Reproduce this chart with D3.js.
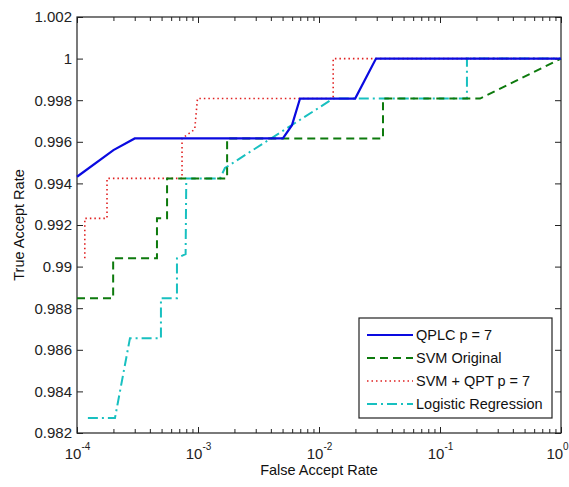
<!DOCTYPE html>
<html><head><meta charset="utf-8">
<script src="https://cdn.jsdelivr.net/npm/d3@7"></script>
<style>body{margin:0;background:#fff}svg{display:block}</style>
</head><body>
<svg id="c" width="569" height="487"></svg>
<script>
// ---- data ----
const seriesNames = ["QPLC p = 7", "SVM Original", "SVM + QPT p = 7", "Logistic Regression"];
const qplcFAR = [1e-4, 2e-4, 3e-4, 5.03e-3, 5.98e-3, 6.97e-3, 0.0199, 0.0296, 1];
const qplcTAR = [0.99432, 0.9956, 0.99616, 0.99616, 0.9968, 0.99808, 0.99808, 1.0, 1.0];
const svmFAR = [1e-4, 1.99e-4, 1.99e-4, 4.58e-4, 4.58e-4, 5.55e-4, 5.55e-4, 1.74e-3, 1.74e-3, 0.0338, 0.0338, 0.214, 1];
const svmTAR = [0.98848, 0.98848, 0.9904, 0.9904, 0.99232, 0.99232, 0.99424, 0.99424, 0.99616, 0.99616, 0.99808, 0.99808, 1.0];
const qptFAR = [1.16e-4, 1.16e-4, 1.77e-4, 1.77e-4, 7.38e-4, 7.38e-4, 9.4e-4, 9.9e-4, 0.0131, 0.0131, 1];
const qptTAR = [0.9904, 0.99232, 0.99232, 0.99424, 0.99424, 0.99616, 0.9966, 0.99808, 0.99808, 1.0, 1.0];
const lrFAR = [1.23e-4, 2.06e-4, 2.74e-4, 4.94e-4, 4.94e-4, 6.7e-4, 6.7e-4, 7.9e-4, 8.0e-4, 1.52e-3, 1.67e-3, 0.0131, 0.167, 0.167, 1];
const lrTAR = [0.98272, 0.98272, 0.98656, 0.98656, 0.98848, 0.98848, 0.9904, 0.9906, 0.99424, 0.99424, 0.99474, 0.99808, 0.99808, 1.0, 1.0];
const yTicks = [0.982, 0.984, 0.986, 0.988, 0.99, 0.992, 0.994, 0.996, 0.998, 1, 1.002];
const yTickLabels = ["0.982", "0.984", "0.986", "0.988", "0.99", "0.992", "0.994", "0.996", "0.998", "1", "1.002"];
const xTicks = [1e-4, 1e-3, 1e-2, 1e-1, 1];
const xTickExps = ["-4", "-3", "-2", "-1", "0"];
const xLabel = "False Accept Rate";
const yLabel = "True Accept Rate";

// ---- layout ----
const L = 77, R = 561, T = 17, B = 433;
const font = "Liberation Sans, Arial, sans-serif";
const svg = d3.select("#c");
const x = d3.scaleLog().domain([1e-4, 1]).range([L, R]);
const y = d3.scaleLinear().domain([0.982, 1.002]).range([B, T]);

const minors = [];
for (let e = -4; e < 0; e++) for (let m = 2; m <= 9; m++) minors.push(m * Math.pow(10, e));

function styleAxis(g) {
  g.select(".domain").remove();
  g.selectAll("line").attr("stroke", "#222").attr("stroke-width", 1);
}
// major/minor ticks bottom & top
svg.append("g").attr("transform", `translate(0,${B})`)
  .call(d3.axisBottom(x).tickValues(minors).tickSize(-4).tickFormat("")).call(styleAxis);
svg.append("g").attr("transform", `translate(0,${T})`)
  .call(d3.axisTop(x).tickValues(minors).tickSize(-4).tickFormat("")).call(styleAxis);
svg.append("g").attr("transform", `translate(0,${T})`)
  .call(d3.axisTop(x).tickValues(xTicks).tickSize(-6).tickFormat("")).call(styleAxis);
const xb = svg.append("g").attr("transform", `translate(0,${B})`)
  .call(d3.axisBottom(x).tickValues(xTicks).tickSize(-6).tickFormat("")).call(styleAxis);
xb.selectAll(".tick").append("text")
  .attr("fill", "#222").attr("font-family", font).attr("font-size", 15)
  .attr("y", 26).attr("text-anchor", "middle")
  .attr("x", (d, i) => i === xTicks.length - 1 ? -4 : 0)
  .each(function(d, i) {
    const t = d3.select(this);
    t.append("tspan").text("10");
    t.append("tspan").attr("dy", -9).attr("font-size", 10).text(xTickExps[i]);
  });

// y axes
const yl = svg.append("g").attr("transform", `translate(${L},0)`)
  .call(d3.axisLeft(y).tickValues(yTicks).tickSize(-6).tickPadding(5)
    .tickFormat((d, i) => yTickLabels[i])).call(styleAxis);
yl.selectAll("text").attr("fill", "#222").attr("font-family", font).attr("font-size", 15);
svg.append("g").attr("transform", `translate(${R},0)`)
  .call(d3.axisRight(y).tickValues(yTicks).tickSize(-6).tickFormat("")).call(styleAxis);

// box
svg.append("rect").attr("x", L).attr("y", T).attr("width", R - L).attr("height", B - T)
  .attr("fill", "none").attr("stroke", "#222").attr("stroke-width", 1.2);

// labels
svg.append("text").attr("x", (L + R) / 2).attr("y", 475).attr("text-anchor", "middle")
  .attr("font-family", font).attr("font-size", 14.5).attr("fill", "#111").text(xLabel);
svg.append("text").attr("transform", `translate(24,${(T + B) / 2}) rotate(-90)`)
  .attr("text-anchor", "middle").attr("font-family", font).attr("font-size", 14.5)
  .attr("fill", "#111").text(yLabel);

// series
const series = [
  { name: seriesNames[0], xs: qplcFAR, ys: qplcTAR, color: "#0a0ae0", w: 2.2, dash: null },
  { name: seriesNames[1], xs: svmFAR, ys: svmTAR, color: "#0d7a0d", w: 2, dash: "8,5" },
  { name: seriesNames[2], xs: qptFAR, ys: qptTAR, color: "#e02020", w: 1.6, dash: "1.5,3" },
  { name: seriesNames[3], xs: lrFAR, ys: lrTAR, color: "#18c0c0", w: 2, dash: "10,4,2,4" }
];
const line = d3.line().x(d => x(d[0])).y(d => y(d[1]));
const order = [3, 2, 1, 0];
order.forEach(i => {
  const s = series[i];
  svg.append("path").datum(s.xs.map((v, k) => [v, s.ys[k]]))
    .attr("d", line).attr("fill", "none").attr("stroke", s.color)
    .attr("stroke-width", s.w).attr("stroke-dasharray", s.dash);
});

// legend
const lg = svg.append("g");
lg.append("rect").attr("x", 359).attr("y", 318).attr("width", 193).attr("height", 100)
  .attr("fill", "#fff").attr("stroke", "#222").attr("stroke-width", 1.2);
series.forEach((s, i) => {
  const yy = 335 + i * 23;
  lg.append("line").attr("x1", 367).attr("x2", 413).attr("y1", yy).attr("y2", yy)
    .attr("stroke", s.color).attr("stroke-width", s.w).attr("stroke-dasharray", s.dash);
  lg.append("text").attr("x", 416).attr("y", yy + 5).attr("font-family", font)
    .attr("font-size", 14.5).attr("fill", "#111").text(s.name);
});
</script>
</body></html>
